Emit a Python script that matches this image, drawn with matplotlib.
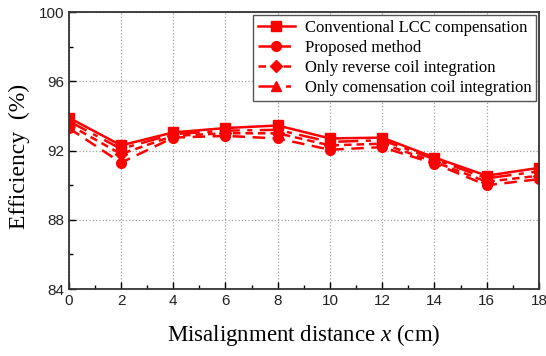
import matplotlib
matplotlib.use("Agg")
import matplotlib.pyplot as plt
from matplotlib.ticker import MultipleLocator

plt.rcParams["mathtext.fontset"] = "custom"
plt.rcParams["mathtext.rm"] = "Liberation Serif"
plt.rcParams["mathtext.it"] = "Liberation Serif:italic"

x = [0, 2, 4, 6, 8, 10, 12, 14, 16, 18]
conventional = [93.9, 92.3, 93.05, 93.3, 93.45, 92.7, 92.75, 91.6, 90.55, 91.0]
proposed = [93.3, 91.3, 92.75, 92.85, 92.7, 92.05, 92.2, 91.25, 90.0, 90.35]
reverse_only = [93.5, 91.8, 92.85, 93.0, 93.0, 92.3, 92.4, 91.35, 90.2, 90.55]
compensation_only = [93.7, 92.1, 92.95, 93.15, 93.2, 92.5, 92.6, 91.5, 90.4, 90.8]
labels = ["Conventional LCC compensation", "Proposed method",
          "Only reverse coil integration", "Only comensation coil integration"]

fig = plt.figure(figsize=(5.46, 3.56), dpi=100)
ax = fig.add_axes([0.126, 0.188, 0.861, 0.778])

red = "#ff0000"
ax.plot(x, conventional, color=red, lw=1.8, ls="-", marker="s", ms=7, label=labels[0])
ax.plot(x, proposed, color=red, lw=1.8, ls=(0, (5, 3)), marker="o", ms=7, label=labels[1])
ax.plot(x, reverse_only, color=red, lw=1.8, ls=(0, (3, 2)), marker="D", ms=6, label=labels[2])
ax.plot(x, compensation_only, color=red, lw=1.8, ls=(0, (8, 3, 2, 3)), marker="^", ms=7, label=labels[3])

ax.set_xlim(0, 18)
ax.set_ylim(84, 100)
ax.xaxis.set_major_locator(MultipleLocator(2))
ax.xaxis.set_minor_locator(MultipleLocator(1))
ax.yaxis.set_major_locator(MultipleLocator(4))
ax.yaxis.set_minor_locator(MultipleLocator(2))
ax.tick_params(which="both", direction="in", top=False, right=False)
ax.tick_params(which="major", length=5, width=1, labelsize=11, labelcolor="#222222")
ax.tick_params(which="minor", length=3, width=1)
for lab in ax.get_xticklabels() + ax.get_yticklabels():
    lab.set_family("Liberation Sans")
ax.grid(True, which="major", color="#a0a0a0", ls=":", lw=0.9)
for s in ax.spines.values():
    s.set_linewidth(1.3)
    s.set_color("#333333")

ax.set_xlabel("Misalignment distance $\\mathit{x}$ (cm)", family="Liberation Serif",
              fontsize=16.5, labelpad=10)
ax.set_ylabel("Efficiency  (%)", family="Liberation Serif", fontsize=17, labelpad=5)
ax.yaxis.set_label_coords(-0.083, 0.48)

leg = ax.legend(loc="upper right", prop={"family": "Liberation Serif", "size": 12},
                fancybox=False, edgecolor="#555555", framealpha=1, handlelength=2.2,
                borderaxespad=0.15, labelspacing=0.25, handletextpad=0.6, borderpad=0.3)
leg.get_frame().set_linewidth(1.0)

fig.savefig("out.png", dpi=100)
